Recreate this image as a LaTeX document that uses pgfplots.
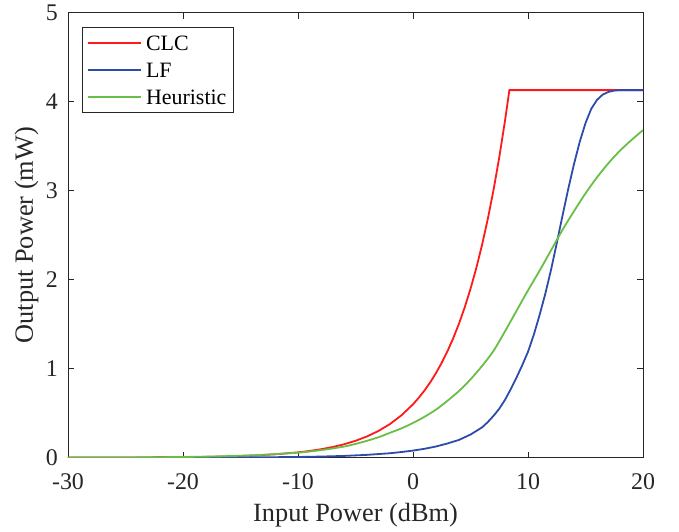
\documentclass[border=0pt]{standalone}
\usepackage{fontspec}
\setmainfont{Liberation Serif}
\usepackage{pgfplots}
\pgfplotsset{compat=1.18}
\definecolor{clcred}{RGB}{255,25,25}
\definecolor{lfblue}{RGB}{45,75,170}
\definecolor{heugreen}{RGB}{105,190,70}
\definecolor{axgray}{RGB}{38,38,38}
\pgfplotstableread{
x y
-30 0.0006
-28 0.00095
-26 0.0015
-24 0.0024
-22 0.0038
-20 0.006
-18 0.0095
-16 0.0151
-14 0.0239
-12 0.0379
-10 0.06
-9 0.0755
-8 0.0951
-7 0.1197
-6 0.1507
-5 0.1897
-4 0.2389
-3 0.3007
-2 0.3786
-1 0.4766
0 0.6
0.5 0.6732
1 0.7554
1.5 0.8475
2 0.9509
2.5 1.0670
3 1.1972
3.5 1.3433
4 1.5071
4.5 1.6910
5 1.8974
5.5 2.1289
6 2.3886
6.5 2.6800
7 3.0071
7.5 3.3740
8 3.7857
8.38 4.13
20 4.13
}\clc
\pgfplotstableread{
x y
-30 0.0001
-25 0.00025
-20 0.0008
-15 0.0025
-10 0.008
-8 0.0127
-6 0.020
-4 0.032
-2 0.050
-1 0.064
0 0.080
1 0.100
2 0.126
3 0.160
4 0.20
5 0.26
5.5 0.30
6 0.34
6.5 0.40
7 0.47
7.5 0.55
8 0.65
8.5 0.77
9 0.90
9.5 1.04
10 1.19
10.5 1.38
11 1.60
11.5 1.84
12 2.11
12.5 2.41
13 2.72
13.5 3.02
14 3.30
14.5 3.55
15 3.76
15.5 3.92
16 4.02
16.5 4.08
17 4.11
17.5 4.125
18 4.13
20 4.13
}\lf
\pgfplotstableread{
x y
-30 0.001
-25 0.0025
-20 0.008
-17 0.014
-15 0.022
-13 0.033
-11 0.048
-10 0.056
-8 0.085
-6 0.125
-5 0.155
-4 0.19
-3 0.23
-2 0.28
-1 0.33
0 0.39
1 0.46
2 0.54
3 0.64
4 0.75
5 0.88
6 1.03
7 1.20
8 1.42
9 1.65
10 1.88
11 2.10
12 2.33
13 2.56
14 2.77
15 2.97
16 3.15
17 3.31
18 3.45
19 3.57
20 3.68
}\heur
\begin{document}
\begin{tikzpicture}[x=1bp,y=1bp]
\useasboundingbox (-68,-74.3) rectangle (611,457.7);
\begin{axis}[
  at={(0,0)}, anchor=south west,
  scale only axis, width=575bp, height=445bp,
  xmin=-30, xmax=20, ymin=0, ymax=5,
  xtick={-30,-20,...,20}, ytick={0,1,...,5},
  tick align=inside, major tick length=6bp,
  axis line style={axgray, line width=0.6bp},
  tick style={axgray, line width=0.6bp},
  /pgf/number format/assume math mode=true,
  ticklabel style={font=\fontsize{24}{24}\selectfont, text=axgray, inner sep=0pt},
  xticklabel style={anchor=base, yshift=-32bp},
  yticklabel style={anchor=east, xshift=-10bp},
  xlabel={Input Power (dBm)}, ylabel={Output Power (mW)},
  every axis x label/.style={at={(axis description cs:0.5,0)}, anchor=base, yshift=-64bp,
    font=\fontsize{26.4}{26.4}\selectfont, text=axgray, inner sep=0pt},
  every axis y label/.style={at={(axis description cs:0,0.5)}, xshift=-35bp, rotate=90, anchor=base,
    font=\fontsize{26.4}{26.4}\selectfont, text=axgray, inner sep=0pt},
  legend style={at={(axis description cs:0.0243,0.967)}, anchor=north west,
    draw=axgray, line width=0.6bp, fill=white,
    font=\fontsize{22}{22}\selectfont,
    inner xsep=5bp, inner ysep=4.2bp, row sep=4.5bp, column sep=2bp,
    cells={anchor=west, inner sep=0pt, text height=17bp, text depth=0bp}},
  legend image code/.code={\draw[#1, line width=1.8bp] (0bp,0bp) -- (53bp,0bp);},
  every axis plot/.append style={line width=1.8bp},
]
\addplot[clcred] table[x=x,y=y] {\clc};
\addlegendentry{CLC}
\addplot[lfblue] table[x=x,y=y] {\lf};
\addlegendentry{LF}
\addplot[heugreen, smooth] table[x=x,y=y] {\heur};
\addlegendentry{Heuristic}
\end{axis}
\end{tikzpicture}
\end{document}
